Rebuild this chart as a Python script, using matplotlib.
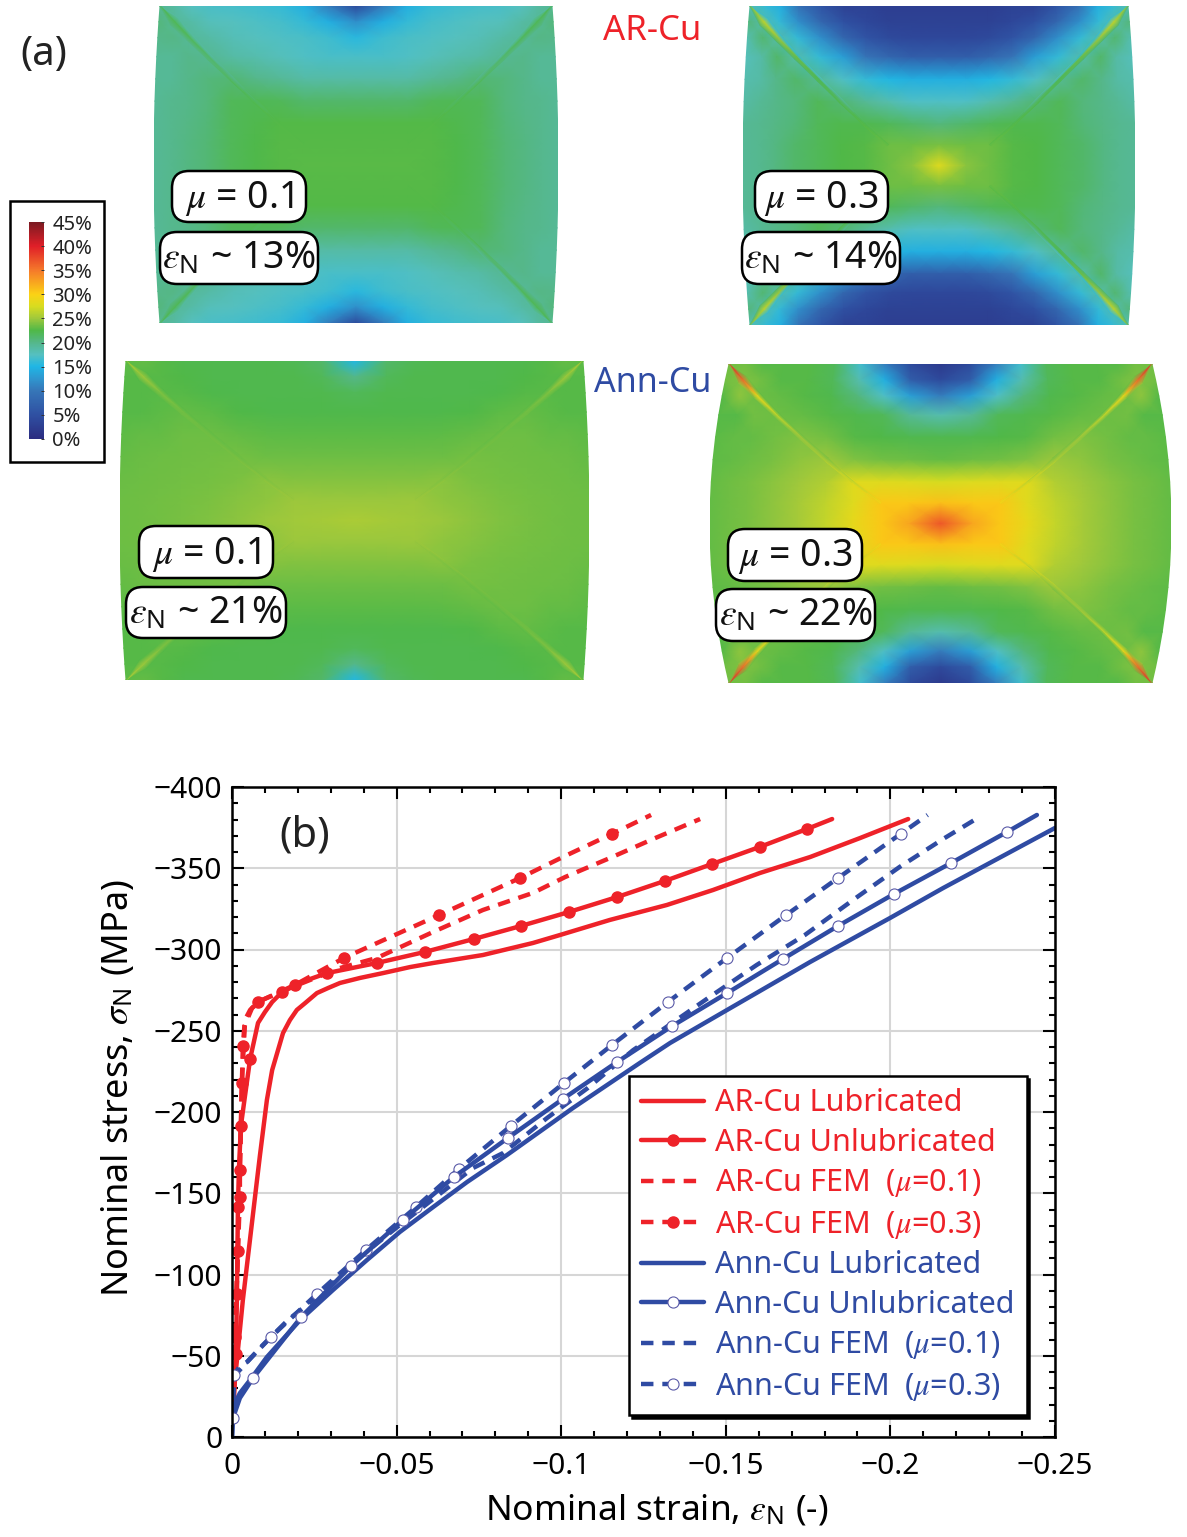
""" Plastic strain maps for compressed Cu and the stress-strain curves below them. """
import numpy as np
import matplotlib
matplotlib.use("Agg")
import matplotlib.pyplot as plt
from matplotlib.colors import LinearSegmentedColormap, Normalize
from matplotlib.cm import ScalarMappable
from matplotlib.patches import Rectangle, FancyBboxPatch
from matplotlib.ticker import MultipleLocator

plt.rcParams['font.family'] = ['Noto Sans', 'DejaVu Sans']
plt.rcParams['mathtext.fontset'] = 'custom'
plt.rcParams['mathtext.rm'] = 'Noto Sans'
plt.rcParams['mathtext.it'] = 'STIXGeneral:italic'
plt.rcParams['mathtext.fallback'] = 'stix'

W, H = 1187, 1537
RED = '#ee2229'
BLUE = '#2f4ba3'
GRID = '#d6d6d6'

# colour scale of the strain maps, percent
scale_stops = [0, 5, 10, 12.5, 15, 17.5, 20, 22.5, 25, 27.5, 30, 35, 40, 45]
scale_colors = ['#2b2c80', '#2f50a2', '#3676b8', '#2f96cf', '#1fb6e5', '#55c0c0',
                '#55b78a', '#4fb848', '#9fc83c', '#d8dc20', '#fbd215', '#f5792a',
                '#e01f28', '#7a1a22']
scale_ticks = [0, 5, 10, 15, 20, 25, 30, 35, 40, 45]

# quarter of each map: rows from the free top edge to the mid plane,
# columns from the left edge to the centre line, strain in percent.
# The diagonal holds the shear band running in from the corner.
ar_mu01 = [
    [22.0, 18.8, 17.5, 17.0, 16.8, 16.5, 16.0, 14.5, 10.5, 4.2],
    [20.5, 22.0, 18.8, 17.8, 17.5, 17.2, 16.8, 16.0, 14.5, 12.0],
    [20.0, 20.2, 21.8, 18.8, 18.0, 17.6, 17.3, 17.0, 16.5, 15.5],
    [19.5, 19.5, 20.0, 21.2, 18.8, 18.3, 17.8, 17.3, 17.0, 17.0],
    [19.5, 19.5, 20.0, 20.5, 20.5, 20.0, 19.5, 18.8, 18.8, 18.8],
    [19.5, 19.8, 20.0, 20.5, 21.8, 21.5, 21.8, 21.2, 21.2, 21.2],
    [19.5, 19.8, 20.2, 20.7, 21.8, 22.3, 22.6, 22.6, 22.6, 22.6],
    [19.5, 19.8, 20.3, 20.8, 21.8, 22.4, 22.7, 22.7, 22.7, 22.7],
    [19.5, 19.8, 20.3, 20.8, 21.8, 22.4, 22.7, 22.8, 22.8, 22.8],
]
ar_mu03 = [
    [24.0, 16.0, 14.5, 9.3, 5.5, 3.0, 3.0, 2.5, 2.5, 2.5],
    [20.5, 26.5, 16.0, 12.0, 8.0, 5.0, 3.8, 3.0, 3.0, 3.0],
    [18.3, 21.0, 25.0, 16.0, 12.0, 8.0, 5.5, 4.2, 3.8, 3.8],
    [17.8, 18.8, 21.2, 23.5, 16.0, 13.2, 9.8, 8.0, 6.8, 6.8],
    [18.3, 18.8, 20.0, 21.2, 22.0, 17.3, 16.0, 15.2, 14.5, 14.5],
    [18.8, 19.5, 20.0, 20.5, 21.8, 21.0, 19.5, 18.3, 17.3, 17.3],
    [19.5, 19.7, 20.2, 20.7, 21.8, 22.3, 22.3, 21.8, 21.2, 20.5],
    [19.5, 19.7, 20.3, 21.2, 21.8, 22.5, 22.7, 23.0, 23.4, 23.8],
    [19.5, 19.7, 20.3, 21.2, 21.8, 22.5, 22.7, 23.4, 24.3, 28.0],
]
ann_mu01 = [
    [25.5, 23.2, 22.7, 22.3, 22.3, 22.3, 22.3, 22.0, 21.2, 15.2],
    [22.7, 25.0, 22.7, 22.5, 22.3, 22.3, 22.3, 22.3, 21.8, 20.0],
    [22.7, 22.7, 24.0, 22.7, 22.4, 22.3, 22.3, 22.3, 22.3, 21.8],
    [22.7, 22.7, 22.9, 23.6, 22.9, 22.5, 22.4, 22.4, 22.4, 22.4],
    [23.0, 23.2, 23.2, 23.4, 23.4, 23.2, 23.0, 22.9, 22.9, 22.9],
    [23.2, 23.3, 23.4, 23.5, 23.6, 23.5, 23.4, 23.4, 23.4, 23.4],
    [23.3, 23.4, 23.5, 23.6, 23.7, 23.9, 24.0, 24.1, 24.1, 24.1],
    [23.4, 23.5, 23.6, 23.7, 23.9, 24.2, 24.5, 24.7, 24.8, 24.8],
    [23.4, 23.5, 23.6, 23.8, 24.0, 24.4, 24.8, 25.1, 25.3, 25.5],
]
ann_mu03 = [
    [40.0, 23.6, 22.7, 22.7, 22.7, 21.8, 16.7, 10.5, 4.2, 2.0],
    [23.6, 36.0, 23.6, 22.7, 22.7, 21.8, 18.3, 14.5, 6.8, 4.2],
    [22.7, 24.5, 29.0, 23.2, 22.7, 22.3, 20.5, 17.3, 13.2, 10.5],
    [22.7, 22.7, 23.6, 26.5, 23.2, 22.7, 22.3, 21.8, 19.5, 18.3],
    [22.9, 23.2, 23.2, 23.6, 25.0, 23.6, 22.7, 22.5, 22.3, 22.3],
    [23.0, 23.2, 23.4, 23.8, 24.5, 24.6, 24.0, 23.6, 23.4, 23.2],
    [23.2, 23.5, 23.8, 24.3, 25.0, 25.8, 26.5, 28.0, 27.8, 27.5],
    [23.2, 23.5, 23.8, 24.4, 25.3, 26.4, 28.0, 29.5, 30.5, 31.0],
    [23.2, 23.5, 23.8, 24.4, 25.3, 26.6, 28.5, 30.5, 32.5, 37.0],
]

# AR-Cu curves, nominal strain and nominal stress (MPa)
ar_lub_strain = [-.0003, -.0033, -.0076, -.0085, -.0106, -.0122, -.0155, -.0176, -.0197, -.0222, -.0258, -.0292,
                 -.0328, -.0389, -.0459, -.0541, -.0611, -.0762, -.0914, -.0996, -.1148, -.1321, -.1461, -.1604,
                 -.1756, -.1908, -.2054]
ar_lub_stress = [-22.8, -84.3, -158.2, -173.5, -207.4, -225.8, -248.6, -256.6, -262.8, -267, -273.2, -276.3,
                 -279.4, -282.5, -285.5, -289.2, -291.7, -296.6, -304, -308.9, -318.2, -327.4, -336.6, -347.1,
                 -356.9, -368.6, -380.3]
ar_unlub_strain = [-.0006, -.0012, -.0015, -.0018, -.0021, -.0027, -.0039, -.0055, -.0079, -.0100, -.0122, -.0152,
                   -.0191, -.0237, -.0289, -.0440, -.0586, -.0735, -.0878, -.1024, -.1170, -.1315, -.1458, -.1603,
                   -.1747, -.1823]
ar_unlub_stress = [-22.8, -51.1, -88, -141.5, -164.3, -191.4, -209.2, -232.6, -254.8, -261.5, -267.7, -273.8,
                   -278.2, -281.8, -285.5, -291.7, -298.5, -306.5, -314.5, -323.1, -332.3, -342.2, -352.6, -363.1,
                   -374.2, -380.3]
ar_unlub_marks = [1, 2, 3, 5, 7, 11, 14, 15, 16, 17, 18, 19, 20, 21, 22, 23, 24]
ar_fem01_strain = [-.0003, -.0018, -.0030, -.0039, -.0061, -.0091, -.0191, -.0328, -.0440, -.0611, -.0762,
                   -.0914, -.1012, -.1148, -.1279, -.1422]
ar_fem01_stress = [-22.8, -115.1, -217.8, -253.5, -264, -268.9, -277.5, -288.6, -294.8, -310.8, -324.3,
                   -334.8, -344.6, -356.3, -368, -380.3]
ar_fem03_strain = [-.0003, -.0009, -.0018, -.0024, -.0024, -.0030, -.0033, -.0039, -.0055, -.0079, -.0191,
                   -.0340, -.0629, -.0875, -.1005, -.1154, -.1273]
ar_fem03_stress = [-22.8, -61.5, -114.5, -147.7, -164.3, -217.8, -240.6, -256.6, -262.8, -267.7, -278.2,
                   -294.8, -321.2, -344, -356.9, -371.1, -382.8]
ar_fem03_marks = [1, 2, 3, 4, 5, 6, 9, 10, 11, 12, 13, 15]

# Ann-Cu curves
ann_lub_strain = [0, -.0003, -.0024, -.0055, -.0106, -.0207, -.0307, -.0410, -.0510, -.0611, -.0714,
                  -.0835, -.1036, -.1239, -.1331, -.1504, -.1756, -.1999, -.2160, -.2364, -.2500]
ann_lub_stress = [0, -18.5, -27, -35.1, -49.2, -72, -90.5, -108.9, -126.2, -141.5, -156.9,
                  -173.5, -202.5, -230.2, -242.5, -262.8, -292.3, -319.4, -337.8, -360, -374.8]
ann_unlub_strain = [0, -.0003, -.0024, -.0064, -.0210, -.0361, -.0519, -.0674, -.0838, -.1005, -.1170,
                    -.1337, -.1504, -.1674, -.1841, -.2011, -.2184, -.2354, -.2445]
ann_unlub_stress = [0, -11.7, -24, -36.3, -73.8, -105.2, -133.5, -160, -184, -208, -230.8,
                    -252.9, -273.2, -294.2, -314.5, -334.2, -353.2, -372.3, -382.8]
ann_unlub_marks = [1, 3, 4, 5, 6, 7, 8, 9, 10, 11, 12, 13, 14, 15, 16, 17]
ann_fem01_strain = [-.0003, -.0009, -.0046, -.0085, -.0170, -.0216, -.0307, -.0389, -.0510, -.0732, -.0824,
                    -.0957, -.1081, -.1218, -.1451, -.1594, -.1740, -.1899, -.2028, -.2160, -.2260]
ann_fem01_stress = [-22.8, -38, -46.2, -54.8, -72, -79.4, -94.8, -110.8, -130.5, -165.5, -174.8,
                    -196.3, -214.8, -238, -270.8, -290.5, -308.9, -332.3, -350.8, -368, -380.3]
ann_fem03_strain = [-.0003, -.0006, -.0024, -.0046, -.0118, -.0258, -.0407, -.0559, -.0689, -.0847, -.1008,
                    -.1154, -.1324, -.1504, -.1683, -.1841, -.2031, -.2113]
ann_fem03_stress = [-22.8, -38.2, -43.7, -46.2, -61.5, -88, -115.1, -141.5, -164.9, -191.4, -217.8,
                    -241.2, -267.7, -294.8, -321.2, -344, -371.1, -382.8]
ann_fem03_marks = [1, 4, 5, 6, 7, 8, 9, 10, 11, 12, 13, 14, 15, 16]

x_ticks = [0, -0.05, -0.1, -0.15, -0.2, -0.25]
x_tick_labels = ['0', '\u22120.05', '\u22120.1', '\u22120.15', '\u22120.2', '\u22120.25']
y_ticks = [0, -50, -100, -150, -200, -250, -300, -350, -400]
y_tick_labels = ['0', '\u221250', '\u2212100', '\u2212150', '\u2212200', '\u2212250', '\u2212300', '\u2212350', '\u2212400']

# node spacing of the quarter maps, fraction of half width / half height
col_frac = np.array([0, .08, .16, .26, .38, .5, .62, .74, .86, 1])
row_frac = np.array([0, .1, .2, .32, .46, .6, .74, .87, 1])
# half width of the shear band along the diagonal nodes, in pixels
band_width = [0, 5, 3.5, 2.5, 2, 2, 1.5, 1.5]

cmap = LinearSegmentedColormap.from_list(
    'strain', [(s / 45, c) for s, c in zip(scale_stops, scale_colors)], N=512)
norm = Normalize(0, 45)


def px_rect(fig, left, top, right, bottom):
    return fig.add_axes([left / W, 1 - bottom / H, (right - left) / W, (bottom - top) / H])


def plot_map(fig, values, left, top, right, bottom, inset):
    ax = px_rect(fig, left, top, right, bottom)
    half_w = (right - left) / 2
    half_h = (bottom - top) / 2

    def place(u, v):
        return u * (half_w - inset * v ** 2), v * half_h

    q = np.array(values)
    # the band is drawn on its own, so the base field skips it
    base = q.copy()
    for i in range(len(band_width)):
        base[i, i] = (q[i, i + 1] + q[i + 1, i]) / 2
    full = np.vstack([base, base[-2::-1]])
    full = np.hstack([full, full[:, -2::-1]])
    u = np.concatenate([col_frac - 1, 1 - col_frac[-2::-1]])
    v = np.concatenate([1 - row_frac, row_frac[-2::-1] - 1])
    xx, yy = place(*np.meshgrid(u, v))
    ax.pcolormesh(xx, yy, full, shading='gouraud', cmap=cmap, norm=norm)

    # ribbon along the diagonal in each corner: top side, ridge, left side
    n = len(band_width)
    cx, cy = place(col_frac[:n] - 1, 1 - row_frac[:n])
    tx, ty = np.gradient(cx), np.gradient(cy)
    length = np.hypot(tx, ty)
    nx, ny = -ty / length * band_width, tx / length * band_width
    for sx in (-1, 1):
        for sy in (-1, 1):
            bx = sx * np.array([cx + nx, cx, cx - nx])
            by = sy * np.array([cy + ny, cy, cy - ny])
            band = np.array([[q[i, i + 1] for i in range(n)],
                             [q[i, i] for i in range(n)],
                             [q[i + 1, i] for i in range(n)]])
            ax.pcolormesh(bx, by, band, shading='gouraud', cmap=cmap, norm=norm)

    ax.set_xlim(-half_w, half_w)
    ax.set_ylim(-half_h, half_h)
    ax.axis('off')


def plot_maps(fig):
    plot_map(fig, ar_mu01, 154, 6, 558, 323, 6)
    plot_map(fig, ar_mu03, 743, 6, 1135, 325, 7)
    plot_map(fig, ann_mu01, 120, 361, 589, 680, 6)
    plot_map(fig, ann_mu03, 710, 364, 1171, 683, 19)

    over = fig.add_axes([0, 0, 1, 1], zorder=3)
    over.set_xlim(0, W)
    over.set_ylim(H, 0)
    over.axis('off')
    mu_labels = [(172, 171, 306, 222, r'$\mu$ = 0.1'), (755, 171, 888, 222, r'$\mu$ = 0.3'),
                 (139, 526, 273, 578, r'$\mu$ = 0.1'), (728, 529, 862, 581, r'$\mu$ = 0.3')]
    eps_labels = [(160, 232, 318, 284, r'$\varepsilon_{\mathrm{N}}$ ~ 13%'),
                  (742, 232, 900, 284, r'$\varepsilon_{\mathrm{N}}$ ~ 14%'),
                  (126, 587, 286, 638, r'$\varepsilon_{\mathrm{N}}$ ~ 21%'),
                  (716, 589, 875, 641, r'$\varepsilon_{\mathrm{N}}$ ~ 22%')]
    for labels, shift in ((mu_labels, 2), (eps_labels, 1)):
        for x0, y0, x1, y1, s in labels:
            over.add_patch(FancyBboxPatch((x0, y0), x1 - x0, y1 - y0, boxstyle='round,pad=0,rounding_size=17',
                                          fc='white', ec='black', lw=1.8))
            over.text((x0 + x1) / 2, (y0 + y1) / 2 + shift, s, fontsize=27, color='#111111',
                      ha='center', va='center')

    over.text(44, 55, '(a)', fontsize=29, color='#222222', ha='center', va='center')
    over.text(652, 31, 'AR-Cu', fontsize=25, color=RED, ha='center', va='center')
    over.text(653, 383, 'Ann-Cu', fontsize=24.5, color=BLUE, ha='center', va='center')


def plot_scale(fig):
    fig.add_artist(Rectangle((10 / W, 1 - 462 / H), 94 / W, 261 / H, transform=fig.transFigure,
                             fc='white', ec='black', lw=1.8, zorder=-1))
    cax = px_rect(fig, 29, 222, 44, 439)
    bar = fig.colorbar(ScalarMappable(norm=norm, cmap=cmap), cax=cax, ticks=scale_ticks)
    bar.outline.set_visible(False)
    bar.ax.set_yticklabels([f'{t}%' for t in scale_ticks], fontsize=14.5, color='#222222')
    bar.ax.tick_params(length=2, width=0.7, direction='in', pad=6, color='#333333')


def plot_curves(fig):
    ax = px_rect(fig, 232, 787, 1055, 1437)
    solid = dict(lw=3.2, solid_capstyle='round')
    dashed = dict(lw=3.2, dashes=(2.8, 2.0), dash_capstyle='butt')
    filled = dict(marker='o', ms=8, mfc=RED, mec=RED)
    hollow = dict(marker='o', ms=8, mfc='white', mec='#5a5aa8', mew=0.8)

    ax.plot(ar_lub_strain, ar_lub_stress, color=RED, label='AR-Cu Lubricated', **solid)
    ax.plot(ar_unlub_strain, ar_unlub_stress, color=RED, markevery=ar_unlub_marks,
            label='AR-Cu Unlubricated', **solid, **filled)
    ax.plot(ar_fem01_strain, ar_fem01_stress, color=RED, label=r'AR-Cu FEM  ($\mu$=0.1)', **dashed)
    ax.plot(ar_fem03_strain, ar_fem03_stress, color=RED, markevery=ar_fem03_marks,
            label=r'AR-Cu FEM  ($\mu$=0.3)', **dashed, **filled)
    ax.plot(ann_lub_strain, ann_lub_stress, color=BLUE, label='Ann-Cu Lubricated', **solid)
    ax.plot(ann_fem01_strain, ann_fem01_stress, color=BLUE, label=r'Ann-Cu FEM  ($\mu$=0.1)', **dashed)
    ax.plot(ann_fem03_strain, ann_fem03_stress, color=BLUE, markevery=ann_fem03_marks,
            label=r'Ann-Cu FEM  ($\mu$=0.3)', **dashed, **hollow)
    ax.plot(ann_unlub_strain, ann_unlub_stress, color=BLUE, markevery=ann_unlub_marks,
            label='Ann-Cu Unlubricated', **solid, **hollow)

    ax.set_xlim(0, -0.25)
    ax.set_ylim(0, -400)
    ax.set_xticks(x_ticks, x_tick_labels)
    ax.set_yticks(y_ticks, y_tick_labels)
    ax.xaxis.set_minor_locator(MultipleLocator(0.01))
    ax.yaxis.set_minor_locator(MultipleLocator(10))
    ax.tick_params(which='both', direction='in', top=True, right=True, width=1.5, labelsize=21.5)
    ax.tick_params(which='major', length=8.5)
    ax.tick_params(which='minor', length=4)
    ax.tick_params(axis='x', which='major', pad=11)
    ax.tick_params(axis='y', which='major', pad=7)
    ax.grid(True, which='major', color=GRID, lw=1.5)
    ax.set_axisbelow(True)
    for spine in ax.spines.values():
        spine.set_linewidth(1.8)

    ax.set_xlabel(r'Nominal strain, $\varepsilon_{\mathrm{N}}$ (-)', fontsize=25.5, va='center')
    ax.set_ylabel(r'Nominal stress, $\sigma_{\mathrm{N}}$ (MPa)', fontsize=26, va='center')
    ax.xaxis.set_label_coords(0.516, -0.112)
    ax.yaxis.set_label_coords(-0.1385, 0.537)
    ax.text(0.0888, 0.9255, '(b)', transform=ax.transAxes, fontsize=30, color='#222222',
            ha='center', va='center')

    handles, labels = ax.get_legend_handles_labels()
    order = [0, 1, 2, 3, 4, 7, 5, 6]
    legend = ax.legend([handles[i] for i in order], [labels[i] for i in order],
                       loc='lower left', bbox_to_anchor=(397 / 823, 22 / 650), borderaxespad=0,
                       fontsize=22, labelcolor='linecolor', fancybox=False, framealpha=1,
                       edgecolor='black', shadow={'color': 'black', 'alpha': 1},
                       numpoints=1, handlelength=2.05, handletextpad=0.36, labelspacing=0.31,
                       borderpad=0.4)
    legend.get_frame().set_linewidth(1.8)


def main():
    fig = plt.figure(figsize=(W / 100, H / 100), dpi=100)
    plot_maps(fig)
    plot_scale(fig)
    plot_curves(fig)
    fig.savefig('out.png', dpi=100)


if __name__ == "__main__":
    main()
